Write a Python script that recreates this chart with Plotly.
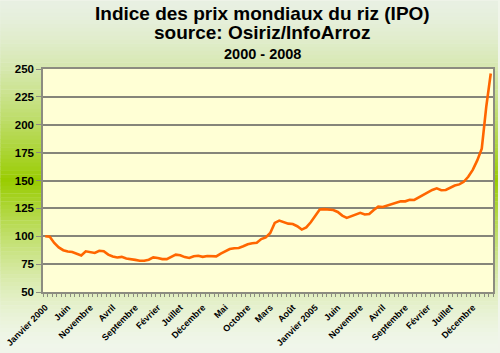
import plotly.graph_objects as go

# ---- data ----
values = [100, 99.5, 94, 90, 87.5, 86.3, 85.8, 84, 82.7, 86.5,
          85.5, 85, 87, 86.5, 83.5, 81.8, 81, 81.5, 80, 79.6,
          78.8, 78, 78, 79, 81, 80.5, 79.5, 79.5, 81.5, 83.5,
          83, 81.3, 80.5, 82, 82.5, 81.5, 82.3, 82, 82, 84.5,
          86.8, 88.5, 89.3, 89.5, 91, 92.8, 93.7, 94.2, 97.5, 99,
          103, 112, 114, 112.5, 111.3, 111, 109, 106, 108, 112.5,
          118.5, 124, 124.3, 124, 123.5, 121.8, 118.5, 116.5, 118, 119.3,
          121, 119.5, 120, 123.5, 126.5, 126.2, 127.5, 129, 130.6, 131.3,
          131.3, 132.7, 132.5, 134.8, 137.5, 139.5, 141.5, 143, 141.3, 141.5,
          143.7, 145.5, 146.5, 148.8, 153.3, 159.5, 168, 178.5, 216, 246]
tick_positions = [0, 5, 10, 15, 20, 25, 30, 35, 40, 45,
                  50, 55, 60, 65, 70, 75, 80, 85, 90, 95]
tick_labels = ["Janvier 2000", "Juin", "Novembre", "Avril", "Septembre",
               "Février", "Juillet", "Décembre", "Mai", "Octobre",
               "Mars", "Août", "Janvier 2005", "Juin", "Novembre",
               "Avril", "Septembre", "Février", "Juillet", "Décembre"]
y_ticks = [50, 75, 100, 125, 150, 175, 200, 225, 250]
titles = ["Indice des prix mondiaux du riz (IPO)", "source: Osiriz/InfoArroz", "2000 - 2008"]

months = list(range(len(values)))

W, H = 500, 353
L, R, T, B = 43, 5, 69, 57
PW, PH = W - L - R, H - T - B

fig = go.Figure()
fig.add_trace(go.Scatter(x=months, y=values, mode="lines",
                         line=dict(color="#FF6600", width=2.6), hoverinfo="skip"))

# gradient background strips
shapes = []
N = 90
pale_top = (232, 240, 226)
pale_bot = (240, 246, 234)
green = (153, 204, 0)
for i in range(N):
    y0 = i * H / N
    y1 = (i + 1) * H / N
    yc = (y0 + y1) / 2
    peak = 183
    if yc < peak:
        d = (peak - yc) / peak
        base = pale_top
    else:
        d = (yc - peak) / (H - peak)
        base = pale_bot
    f = (1 - d) ** 1.5
    c = tuple(int(round(base[k] + (green[k] - base[k]) * f)) for k in range(3))
    shapes.append(dict(type="rect", xref="paper", yref="paper",
                       x0=-L / PW, x1=(W - L) / PW,
                       y0=(H - B - y1) / PH, y1=(H - B - y0) / PH + 0.002,
                       fillcolor="rgb(%d,%d,%d)" % c, line=dict(width=0), layer="below"))
shapes.append(dict(type="rect", xref="x domain", yref="y domain", x0=0, x1=1, y0=0, y1=1,
                   fillcolor="#FFFFD5", line=dict(width=0), layer="below"))

annotations = []
for txt, ypx, size in [(titles[0], 12, 19), (titles[1], 32, 19), (titles[2], 54, 14.5)]:
    annotations.append(dict(text="<b>%s</b>" % txt, xref="paper", yref="paper",
                            x=(263 - L) / PW, y=(H - B - ypx) / PH,
                            xanchor="center", yanchor="middle", showarrow=False,
                            font=dict(family="Liberation Sans, Arial", size=size, color="black")))

fig.update_layout(
    width=W, height=H,
    margin=dict(l=L, r=R, t=T, b=B, pad=0),
    paper_bgcolor="#F0F5EA", plot_bgcolor="#FFFFD5",
    showlegend=False,
    shapes=shapes, annotations=annotations,
    font=dict(family="Liberation Sans, Arial", color="black"),
    xaxis=dict(range=[-0.5, len(values) - 0.5], tickmode="array",
               tickvals=tick_positions, ticktext=["<b>%s</b>" % t for t in tick_labels],
               tickangle=-45, tickfont=dict(size=9), ticks="", ticklabelstandoff=5,
               showgrid=False, zeroline=False,
               showline=True, linecolor="#8C8C80", linewidth=1.5, mirror=True,
               minor=dict(tickmode="array", tickvals=[m - 0.5 for m in months] + [len(values) - 0.5],
                          ticks="outside", ticklen=3, tickcolor="#8C8C80", tickwidth=1, showgrid=False)),
    yaxis=dict(range=[50, 250], tickmode="array", tickvals=y_ticks,
               ticktext=["<b>%d</b>" % v for v in y_ticks], tickfont=dict(size=11.5),
               ticks="outside", ticklen=5, tickcolor="#8C8C80",
               showgrid=True, gridcolor="#85857A", gridwidth=2, zeroline=False,
               showline=True, linecolor="#8C8C80", linewidth=1.5, mirror=True),
)

fig.write_html("out.html")
